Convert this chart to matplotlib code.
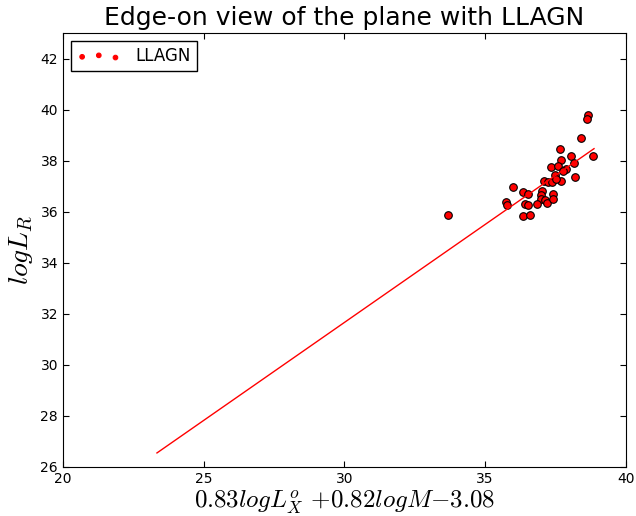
import numpy as np
import matplotlib
matplotlib.use('Agg')
import matplotlib.pyplot as plt

plt.rcParams['mathtext.fontset'] = 'cm'
plt.rcParams['xtick.direction'] = 'in'
plt.rcParams['ytick.direction'] = 'in'
plt.rcParams['xtick.top'] = True
plt.rcParams['ytick.right'] = True

# LLAGN puntos (plano fundamental visto de canto)
plano_x = [33.69, 38.66, 38.63, 38.40, 37.67, 38.85, 38.04, 37.68, 37.34, 37.58,
           38.16, 37.89, 37.77, 37.47, 38.19, 37.70, 37.10, 37.24, 37.38, 37.51,
           36.00, 36.35, 36.54, 37.01, 36.98, 37.43, 35.75, 35.77, 36.40, 36.54,
           36.98, 37.13, 36.85, 37.19, 37.43, 36.34, 36.59]
log_lr = [35.86, 39.78, 39.64, 38.88, 38.46, 38.18, 38.18, 38.04, 37.77, 37.79,
          37.89, 37.67, 37.61, 37.45, 37.36, 37.21, 37.21, 37.16, 37.16, 37.29,
          36.98, 36.77, 36.69, 36.82, 36.66, 36.71, 36.38, 36.27, 36.32, 36.26,
          36.48, 36.46, 36.30, 36.35, 36.48, 35.84, 35.88]

# recta de ajuste
recta_x = [23.34, 38.87]
recta_y = [26.55, 38.47]

fig = plt.figure(figsize=(6.36, 5.16), dpi=100)
ax = fig.add_axes([0.099, 0.095, 0.885, 0.841])

ax.scatter(plano_x, log_lr, s=30, c='red', edgecolors='black', linewidths=0.8,
           label='LLAGN', zorder=2)
ax.plot(recta_x, recta_y, color='red', linewidth=1.0, zorder=3)

ax.set_xlim(20, 40)
ax.set_ylim(26, 43)
ax.set_xticks([20, 25, 30, 35, 40])
ax.set_yticks([26, 28, 30, 32, 34, 36, 38, 40, 42])
ax.tick_params(labelsize=10, length=4)

ax.set_title('Edge-on view of the plane with LLAGN', fontsize=18)
ax.set_xlabel(r'$0.83logL_X^o$ $+0.82logM$$-3.08$', fontsize=18, labelpad=2)
ax.set_ylabel(r'$logL_R$', fontsize=20)

leg = ax.legend(loc='upper left', scatterpoints=3, scatteryoffsets=[0.375, 0.5, 0.3125],
                markerscale=0.6, fancybox=False, framealpha=1, edgecolor='black',
                fontsize=12, handlelength=2.6, handletextpad=0.9, borderaxespad=0.5,
                borderpad=0.35)
for h in leg.legend_handles:
    h.set_edgecolor('red')

fig.savefig('out.png', dpi=100)
